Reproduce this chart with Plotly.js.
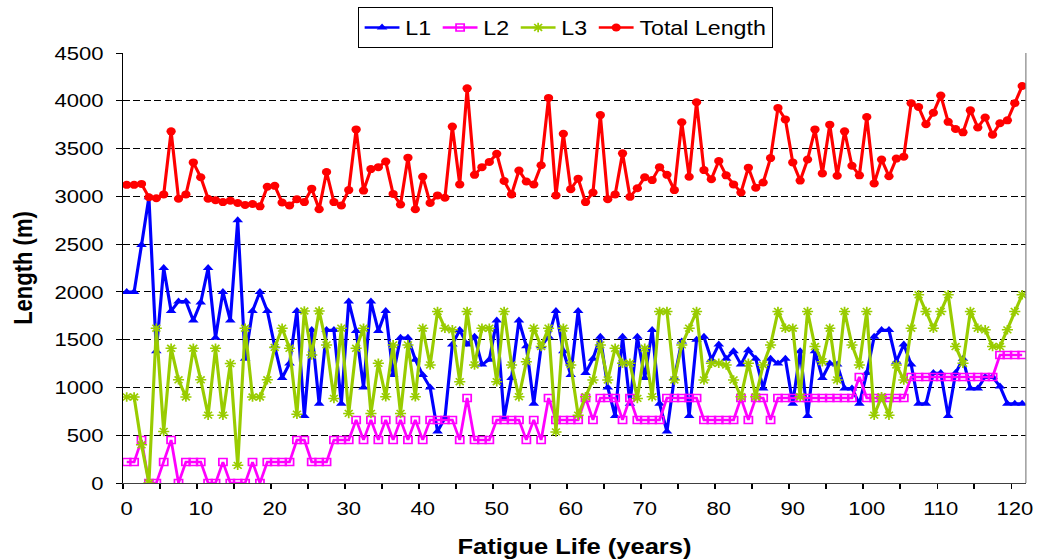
<!DOCTYPE html>
<html>
<head>
<meta charset="utf-8">
<script src="https://cdn.plot.ly/plotly-3.0.1.min.js"></script>
<style>
html,body{margin:0;padding:0;background:#fff;overflow:hidden;}
#chart{width:897px;height:560px;transform:scaleX(1.1605);transform-origin:0 0;}
</style>
</head>
<body>
<div id="chart"></div>
<script>
const years = [0,1,2,3,4,5,6,7,8,9,10,11,12,13,14,15,16,17,18,19,20,
21,22,23,24,25,26,27,28,29,30,31,32,33,34,35,36,37,38,39,40,
41,42,43,44,45,46,47,48,49,50,51,52,53,54,55,56,57,58,59,60,
61,62,63,64,65,66,67,68,69,70,71,72,73,74,75,76,77,78,79,80,
81,82,83,84,85,86,87,88,89,90,91,92,93,94,95,96,97,98,99,100,
101,102,103,104,105,106,107,108,109,110,111,112,113,114,115,116,117,118,119,120,121];

const totalLength = [3120,3120,3130,2990,2980,3020,3680,2975,3020,3355,3200,2975,2960,2940,2955,2930,2910,2920,2895,3100,3110,
2935,2905,2970,2940,3080,2865,3255,2940,2905,3065,
3700,3060,3285,3305,3365,3025,2915,3405,2865,3205,
2930,3010,2985,3730,3125,4130,3225,3305,3360,3445,
3160,3020,3270,3155,3125,3325,4030,3010,3655,3075,
3185,2940,3040,3850,2970,3020,3450,2995,3085,3200,
3170,3305,3225,3065,3775,3205,3985,3275,3180,3370,
3220,3125,3040,3300,3090,3145,3400,3925,3805,3355,
3165,3385,3700,3240,3750,3215,3680,3320,3220,3830,
3135,3385,3210,3395,3415,3975,3935,3755,3875,4055,
3780,3705,3670,3900,3720,3825,3645,3765,3795,3975,4155];

const l1 = [2000,2000,2490,2990,1380,2250,1800,1900,1900,1700,1890,2250,1520,2000,1700,2750,1300,1800,2000,1800,1430,
1100,1250,1800,700,1600,830,1600,1600,830,1900,
1590,1000,1900,1590,1800,1130,1520,1520,1290,1130,
1000,540,680,1450,1600,1450,1530,1240,1290,1700,
680,1100,1700,1430,830,1430,1530,1800,1380,1130,
1800,1150,1300,1530,1000,700,1530,830,1530,1100,
1600,830,540,1100,1480,700,1500,1530,1290,1450,
1300,1380,1240,1390,1300,990,1300,1250,1300,830,
1380,700,1380,1100,1250,1240,990,990,830,1150,
1530,1600,1600,1270,1450,1240,830,830,1150,1150,
700,1150,1300,990,990,1110,1110,1010,830,830,830];

const l2 = [220,220,450,0,0,220,450,0,220,220,220,0,0,220,0,0,0,220,0,220,220,
220,220,450,450,220,220,220,450,450,450,
660,450,660,450,660,450,660,450,660,450,
660,660,660,660,450,890,450,450,450,660,
660,660,660,450,660,450,890,660,660,660,
660,890,660,890,890,890,660,890,660,660,
660,660,890,890,890,890,890,660,660,660,
660,660,890,660,890,890,660,890,890,890,
890,890,890,890,890,890,890,890,1110,890,
890,890,890,890,890,1110,1110,1110,1110,1110,
1110,1110,1110,1110,1110,1110,1110,1340,1340,1340,1340];

const l3 = [900,900,400,0,1620,540,1410,1080,900,1410,1080,710,1410,710,1250,185,1620,900,900,1080,1420,
1620,1410,720,1800,1340,1800,1445,885,1620,728,
1410,1620,728,1253,903,1445,728,1445,903,1620,
1235,1795,1620,1603,1060,1795,1235,1620,1620,1060,
1795,1235,903,1270,1620,1428,1620,535,1620,1235,
710,903,1078,1445,1078,1410,1253,1253,885,1410,
903,1795,1795,1078,1445,1620,1795,1078,1253,1253,
1235,1078,903,1253,903,1235,1445,1795,1620,1620,
903,1795,1428,1270,1620,1078,1795,1445,1235,1795,
710,903,710,1235,1078,1620,1970,1795,1620,1795,
1970,1428,1253,1795,1620,1603,1428,1428,1603,1795,1970];

const seriesNames = ['L1','L2','L3','Total Length'];
const xTickVals = [0,10,20,30,40,50,60,70,80,90,100,110,120];
const yTickVals = [0,500,1000,1500,2000,2500,3000,3500,4000,4500];

const FONT = 'Liberation Sans, Arial, sans-serif';

const traces = [
  {x: years, y: l1, name: seriesNames[0], type: 'scatter', mode: 'lines+markers',
   line: {color: '#0000FF', width: 2.7},
   marker: {symbol: 'triangle-up', size: 8, color: '#0000FF'}},
  {x: years, y: l2, name: seriesNames[1], type: 'scatter', mode: 'lines+markers',
   line: {color: '#FF00FF', width: 2.4},
   marker: {symbol: 'square-open', size: 7, color: '#FF00FF', line: {color: '#FF00FF', width: 1.5}}},
  {x: years, y: l3, name: seriesNames[2], type: 'scatter', mode: 'lines+markers',
   line: {color: '#99CC00', width: 2.7},
   marker: {symbol: 'asterisk-open', size: 8, color: '#99CC00', line: {color: '#99CC00', width: 1.5}}},
  {x: years, y: totalLength, name: seriesNames[3], type: 'scatter', mode: 'lines+markers',
   line: {color: '#FF0000', width: 2.7},
   marker: {symbol: 'circle', size: 8, color: '#FF0000'}}
];

const layout = {
  width: 897, height: 560,
  margin: {l: 106, r: 13, t: 53, b: 77, autoexpand: false},
  paper_bgcolor: '#FFFFFF', plot_bgcolor: '#FFFFFF',
  font: {family: FONT, size: 19, color: '#000000'},
  showlegend: true,
  legend: {orientation: 'h', x: 0.49, xanchor: 'center', y: 1.107, yanchor: 'top',
           bordercolor: '#000000', borderwidth: 1, bgcolor: '#FFFFFF',
           font: {family: FONT, size: 20, color: '#000000'}, itemwidth: 30},
  xaxis: {
    range: [-0.5, 121.5], tickmode: 'array', tickvals: xTickVals, ticktext: xTickVals.map(String),
    ticks: '', showgrid: false, zeroline: false, showline: true, linecolor: '#404040', linewidth: 1.2,
    ticklabelstandoff: 8, automargin: false,
    tickfont: {family: FONT, size: 19, color: '#000000'},
    minor: {tick0: -0.5, dtick: 5, ticks: 'outside', ticklen: 5, tickcolor: '#000000', showgrid: false},
    title: {text: '<b>Fatigue Life (years)</b>', font: {family: FONT, size: 22, color: '#000000'}, standoff: 20}
  },
  yaxis: {
    range: [0, 4500], tickmode: 'array', tickvals: yTickVals, ticks: 'outside', ticklen: 5, tickcolor: '#000000',
    showline: true, linecolor: '#000000', linewidth: 1, zeroline: false,
    showgrid: true, gridcolor: '#000000', gridwidth: 1, griddash: '6px,3px',
    ticklabelstandoff: 7, automargin: false,
    tickfont: {family: FONT, size: 19, color: '#000000'},
    title: {text: '<b>Length (m)</b>', font: {family: FONT, size: 22, color: '#000000'}, standoff: 12}
  },
  shapes: [
    {type: 'line', xref: 'paper', yref: 'paper', x0: 1, x1: 1, y0: 0, y1: 1, line: {color: '#808080', width: 1}}
  ]
};

Plotly.newPlot('chart', traces, layout, {displayModeBar: false, staticPlot: true});
</script>
</body>
</html>
